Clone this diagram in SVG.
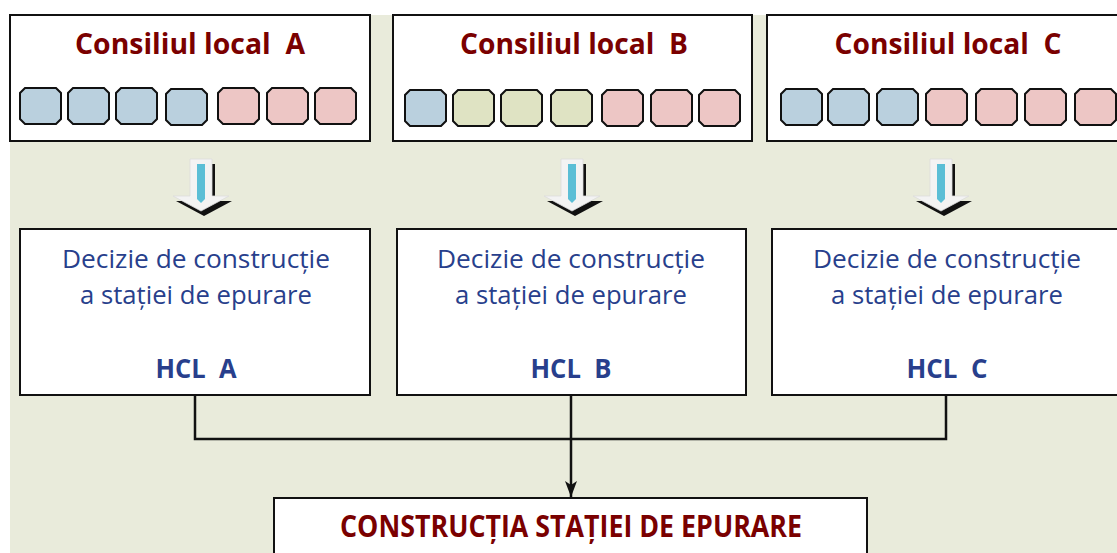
<svg xmlns="http://www.w3.org/2000/svg" width="1117" height="553" viewBox="0 0 1117 553">
<style>
.box{fill:#fff;stroke:#111;stroke-width:2}
.title{font-family:"Open Sans","Liberation Sans",sans-serif;font-weight:bold;font-size:28px;fill:#7a0000;text-anchor:middle}
.dec{font-family:"Open Sans","Liberation Sans",sans-serif;font-size:25px;fill:#283f8c;text-anchor:middle}
.hcl{font-family:"Open Sans","Liberation Sans",sans-serif;font-weight:bold;font-size:26px;fill:#283f8c;text-anchor:middle}
.big{font-family:"Open Sans","Liberation Sans",sans-serif;font-weight:bold;font-size:30px;fill:#7a0000;text-anchor:middle}
.sq{stroke:#111;stroke-width:2}
.b{fill:#bad0de}.g{fill:#dfe3c3}.p{fill:#edc6c5}
.conn{fill:none;stroke:#111;stroke-width:2.5}
</style>
<defs>
<path id="sqp" d="M5 0H36L41 5V31L36 36H5L0 31V5Z"/>
<g id="barrow">
<path d="M-11 0H11V37H28L0 52L-28 37H-11Z" transform="translate(3,5)" fill="#111"/>
<path d="M-11 0H11V37H28L0 52L-28 37H-11Z" fill="#f3f3f3" stroke="#dcdcdc" stroke-width="0.8"/>
<path d="M-4 5H4V40L0 44L-4 40Z" fill="#5bbed6"/>
</g>
<marker id="ah" markerWidth="16" markerHeight="12" refX="16" refY="6" orient="auto" markerUnits="userSpaceOnUse" viewBox="0 0 16 12">
<path d="M0 0L16 6L0 12L4 6Z" fill="#111"/>
</marker>
</defs>
<rect width="1117" height="553" fill="#fff"/>
<rect x="10" y="15" width="1107" height="538" fill="#e9ebdb"/>

<g id="consiliu-a">
<rect class="box" x="10" y="15" width="360" height="126"/>
<text class="title" x="190" y="54" textLength="230" lengthAdjust="spacingAndGlyphs" xml:space="preserve">Consiliul local  A</text>
<use href="#sqp" class="sq b" x="20" y="88"/>
<use href="#sqp" class="sq b" x="68" y="88"/>
<use href="#sqp" class="sq b" x="116" y="88"/>
<use href="#sqp" class="sq b" x="166" y="89"/>
<use href="#sqp" class="sq p" x="218" y="88"/>
<use href="#sqp" class="sq p" x="267" y="88"/>
<use href="#sqp" class="sq p" x="315" y="88"/>
</g>
<g id="consiliu-b">
<rect class="box" x="393" y="15" width="359" height="126"/>
<text class="title" x="574" y="54" textLength="228" lengthAdjust="spacingAndGlyphs" xml:space="preserve">Consiliul local  B</text>
<use href="#sqp" class="sq b" x="405" y="90"/>
<use href="#sqp" class="sq g" x="453" y="90"/>
<use href="#sqp" class="sq g" x="501" y="90"/>
<use href="#sqp" class="sq g" x="551" y="90"/>
<use href="#sqp" class="sq p" x="602" y="90"/>
<use href="#sqp" class="sq p" x="651" y="90"/>
<use href="#sqp" class="sq p" x="699" y="90"/>
</g>
<g id="consiliu-c">
<rect class="box" x="767" y="15" width="370" height="126"/>
<text class="title" x="948" y="54" textLength="227" lengthAdjust="spacingAndGlyphs" xml:space="preserve">Consiliul local  C</text>
<use href="#sqp" class="sq b" x="781" y="89"/>
<use href="#sqp" class="sq b" x="828" y="89"/>
<use href="#sqp" class="sq b" x="877" y="89"/>
<use href="#sqp" class="sq p" x="926" y="89"/>
<use href="#sqp" class="sq p" x="976" y="89"/>
<use href="#sqp" class="sq p" x="1025" y="89"/>
<use href="#sqp" class="sq p" x="1075" y="89"/>
</g>

<g id="arrow-a"><use href="#barrow" x="201" y="159"/></g>
<g id="arrow-b"><use href="#barrow" x="572" y="159"/></g>
<g id="arrow-c"><use href="#barrow" x="941" y="159"/></g>

<g id="hcl-a">
<rect class="box" x="20" y="229" width="350" height="166"/>
<text class="dec" x="196" y="268" textLength="268" lengthAdjust="spacingAndGlyphs">Decizie de construcție</text>
<text class="dec" x="196" y="304" textLength="232" lengthAdjust="spacingAndGlyphs">a stației de epurare</text>
<text class="hcl" x="196" y="378" textLength="81" lengthAdjust="spacingAndGlyphs" xml:space="preserve">HCL  A</text>
</g>
<g id="hcl-b">
<rect class="box" x="397" y="229" width="349" height="166"/>
<text class="dec" x="571" y="268" textLength="268" lengthAdjust="spacingAndGlyphs">Decizie de construcție</text>
<text class="dec" x="571" y="304" textLength="232" lengthAdjust="spacingAndGlyphs">a stației de epurare</text>
<text class="hcl" x="571" y="378" textLength="81" lengthAdjust="spacingAndGlyphs" xml:space="preserve">HCL  B</text>
</g>
<g id="hcl-c">
<rect class="box" x="772" y="229" width="360" height="166"/>
<text class="dec" x="947" y="268" textLength="268" lengthAdjust="spacingAndGlyphs">Decizie de construcție</text>
<text class="dec" x="947" y="304" textLength="232" lengthAdjust="spacingAndGlyphs">a stației de epurare</text>
<text class="hcl" x="947" y="378" textLength="81" lengthAdjust="spacingAndGlyphs" xml:space="preserve">HCL  C</text>
</g>

<g id="constructie">
<rect class="box" x="274" y="498" width="593" height="70"/>
<text class="big" x="571" y="537" textLength="462" lengthAdjust="spacingAndGlyphs">CONSTRUCȚIA STAȚIEI DE EPURARE</text>
</g>

<g id="connectors">
<path class="conn" d="M195 395V439H946V395"/>
<path class="conn" d="M571 395V439"/>
<path class="conn" d="M571 439V497" marker-end="url(#ah)"/>
</g>
</svg>
